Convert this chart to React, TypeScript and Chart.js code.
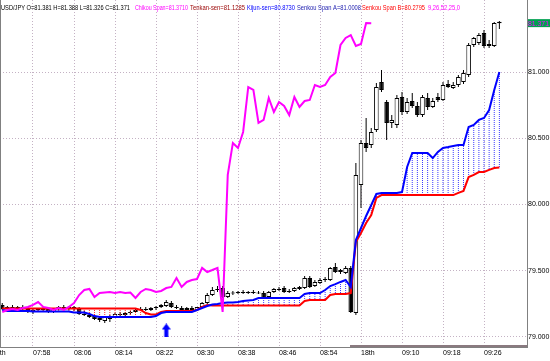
import React, { useEffect, useRef } from "react";
import { Chart, registerables } from "chart.js";

Chart.register(...registerables);

// ---- data ----
const timeTicks = [-2, 6, 14, 22, 30, 38, 46, 54, 62, 70, 78, 86, 94];
const timeLabels = ["18th", "07:58", "08:06", "08:14", "08:22", "08:30", "08:38", "08:46", "08:54", "18th", "09:10", "09:18", "09:26"];
const priceTicks = [79.0, 79.5, 80.0, 80.5, 81.0];

const opens = [
  79.240, 79.209, 79.225, 79.217, 79.225, 79.209, 79.187, 79.202, 79.209, 79.209,
  79.187, 79.209, 79.225, 79.217, 79.225, 79.209, 79.172, 79.164, 79.156, 79.141,
  79.119, 79.134, 79.149, 79.172, 79.164, 79.179, 79.187, 79.202, 79.209, 79.202,
  79.217, 79.225, 79.232, 79.255, 79.225, 79.217, 79.202, 79.217, 79.202, 79.225,
  79.255, 79.315, 79.353, 79.368, 79.300, 79.327, 79.330, 79.338, 79.330, 79.338,
  79.327, 79.330, 79.300, 79.338, 79.361, 79.368, 79.338, 79.346, 79.361, 79.368,
  79.444, 79.383, 79.406, 79.429, 79.429, 79.527, 79.489, 79.482, 79.520, 79.179,
  80.147, 80.465, 80.450, 80.563, 80.926, 80.775, 80.616, 80.601, 80.813, 80.699,
  80.782, 80.745, 80.676, 80.805, 80.737, 80.813, 80.790, 80.911, 80.881, 80.903,
  80.926, 80.979, 81.206, 81.221, 81.296, 81.198, 81.198, 81.381,
];
const highs = [
  79.255, 79.232, 79.240, 79.232, 79.240, 79.225, 79.209, 79.217, 79.225, 79.225,
  79.217, 79.232, 79.240, 79.232, 79.232, 79.225, 79.194, 79.179, 79.172, 79.156,
  79.156, 79.164, 79.179, 79.187, 79.187, 79.194, 79.209, 79.225, 79.225, 79.225,
  79.232, 79.247, 79.278, 79.270, 79.240, 79.232, 79.225, 79.232, 79.225, 79.262,
  79.330, 79.376, 79.383, 79.383, 79.346, 79.346, 79.346, 79.353, 79.346, 79.353,
  79.346, 79.346, 79.346, 79.368, 79.376, 79.383, 79.361, 79.376, 79.383, 79.459,
  79.459, 79.429, 79.444, 79.451, 79.527, 79.557, 79.512, 79.535, 79.535, 80.313,
  80.487, 80.654, 80.578, 80.918, 81.017, 80.790, 80.676, 80.828, 80.850, 80.805,
  80.843, 80.775, 80.828, 80.843, 80.805, 80.843, 80.926, 80.941, 80.926, 80.979,
  81.017, 81.221, 81.266, 81.296, 81.319, 81.244, 81.380, 81.388,
];
const lows = [
  79.202, 79.194, 79.202, 79.194, 79.202, 79.179, 79.172, 79.187, 79.194, 79.179,
  79.179, 79.202, 79.209, 79.202, 79.194, 79.164, 79.156, 79.141, 79.126, 79.111,
  79.104, 79.111, 79.141, 79.156, 79.156, 79.164, 79.179, 79.194, 79.194, 79.194,
  79.202, 79.217, 79.225, 79.217, 79.209, 79.194, 79.194, 79.194, 79.194, 79.217,
  79.247, 79.308, 79.338, 79.293, 79.293, 79.315, 79.323, 79.323, 79.323, 79.323,
  79.323, 79.285, 79.293, 79.330, 79.346, 79.330, 79.330, 79.338, 79.353, 79.361,
  79.368, 79.376, 79.398, 79.414, 79.421, 79.482, 79.474, 79.474, 79.179, 79.164,
  79.973, 80.397, 80.427, 80.548, 80.850, 80.487, 80.578, 80.578, 80.676, 80.684,
  80.729, 80.661, 80.661, 80.714, 80.729, 80.775, 80.782, 80.881, 80.873, 80.888,
  80.911, 80.964, 81.191, 81.206, 81.183, 81.183, 81.191, 81.326,
];
const closes = [
  79.209, 79.225, 79.217, 79.225, 79.209, 79.187, 79.202, 79.209, 79.202, 79.187,
  79.209, 79.225, 79.217, 79.225, 79.209, 79.172, 79.164, 79.149, 79.134, 79.126,
  79.149, 79.156, 79.172, 79.164, 79.179, 79.187, 79.202, 79.209, 79.202, 79.217,
  79.225, 79.240, 79.262, 79.225, 79.217, 79.202, 79.217, 79.202, 79.225, 79.255,
  79.315, 79.353, 79.361, 79.300, 79.330, 79.334, 79.338, 79.330, 79.338, 79.330,
  79.334, 79.293, 79.338, 79.361, 79.353, 79.338, 79.346, 79.368, 79.376, 79.444,
  79.376, 79.414, 79.429, 79.436, 79.520, 79.489, 79.504, 79.520, 79.187, 80.223,
  80.465, 80.427, 80.548, 80.888, 80.866, 80.616, 80.639, 80.805, 80.699, 80.775,
  80.745, 80.676, 80.813, 80.737, 80.782, 80.790, 80.903, 80.888, 80.903, 80.964,
  80.994, 81.206, 81.259, 81.281, 81.198, 81.213, 81.372, 81.371,
];
const senkouA = [
  79.202, 79.194, 79.194, 79.194, 79.194, 79.194, 79.191, 79.191, 79.191, 79.191,
  79.191, 79.191, 79.191, 79.191, 79.183, 79.183, 79.183, 79.172, 79.156, 79.149,
  79.149, 79.149, 79.149, 79.149, 79.149, 79.149, 79.149, 79.149, 79.149, 79.149,
  79.156, 79.179, 79.187, 79.187, 79.187, 79.187, 79.187, 79.187, 79.202, 79.217,
  79.232, 79.243, 79.247, 79.255, 79.259, 79.259, 79.262, 79.270, 79.274, 79.278,
  79.293, 79.293, 79.293, 79.293, 79.293, 79.293, 79.293, 79.293, 79.293, 79.323,
  79.330, 79.330, 79.330, 79.353, 79.383, 79.398, 79.414, 79.429, 79.376, 79.731,
  79.822, 79.913, 79.996, 80.079, 80.087, 80.087, 80.087, 80.087, 80.094, 80.283,
  80.389, 80.389, 80.389, 80.389, 80.351, 80.397, 80.427, 80.434, 80.442, 80.450,
  80.450, 80.586, 80.601, 80.639, 80.654, 80.714, 80.866, 81.0008,
];
const senkouB = [
  79.213, 79.213, 79.213, 79.213, 79.213, 79.213, 79.213, 79.213, 79.213, 79.213,
  79.213, 79.213, 79.213, 79.213, 79.213, 79.213, 79.213, 79.213, 79.213, 79.213,
  79.213, 79.213, 79.213, 79.213, 79.213, 79.213, 79.213, 79.202, 79.179, 79.168,
  79.168, 79.187, 79.194, 79.194, 79.194, 79.194, 79.194, 79.194, 79.202, 79.225,
  79.240, 79.236, 79.236, 79.236, 79.236, 79.236, 79.236, 79.236, 79.236, 79.236,
  79.236, 79.236, 79.236, 79.236, 79.236, 79.236, 79.236, 79.236, 79.236, 79.270,
  79.278, 79.278, 79.278, 79.278, 79.315, 79.323, 79.323, 79.323, 79.330, 79.716,
  79.784, 79.860, 79.920, 80.049, 80.071, 80.071, 80.071, 80.071, 80.071, 80.071,
  80.071, 80.071, 80.071, 80.071, 80.071, 80.071, 80.071, 80.071, 80.071, 80.087,
  80.102, 80.207, 80.223, 80.245, 80.245, 80.261, 80.276, 80.2795,
];
const chikouShift = 25;
const signalBar = 32;
const signalPrice = 79.047;

const legendTexts = [
  "USD/JPY O=81.381 H=81.388 L=81.326 C=81.371",
  "Chikou Span=81.3710",
  "Tenkan-sen=81.1285",
  "Kijun-sen=80.8730",
  "Senkou Span A=81.0008",
  "Senkou Span B=80.2795",
  "9,26,52,25,0",
];
const lastPriceLabel = "81.371";

// ---- layout / style ----
const legendColors = ["#000000", "#FF00FF", "#990000", "#0000FF", "#2020B0", "#FF0000", "#FF00FF"];
const legendX = [1, 135, 190, 247, 297, 362, 428];
const legendW = [129, 53, 55, 48, 64, 63, 32];

const X_MIN = -0.439;
const X_MAX = 102.39;
const Y_MAX = 81.5459;
const Y_MIN = 78.9221;
const GRID = "#c4b2c4";
const FONT = "'Liberation Sans', Arial, sans-serif";

function makePattern(color: string): CanvasPattern | string {
  const c = document.createElement("canvas");
  c.width = 1;
  c.height = 2;
  const g = c.getContext("2d");
  if (!g) return color;
  g.fillStyle = color;
  g.fillRect(0, 0, 1, 1);
  const p = g.createPattern(c, "repeat");
  return p || color;
}

function makeArrow(): HTMLCanvasElement {
  const c = document.createElement("canvas");
  c.width = 9;
  c.height = 14;
  const g = c.getContext("2d")!;
  g.fillStyle = "#0000FF";
  g.beginPath();
  g.moveTo(4.5, 0);
  g.lineTo(9, 6);
  g.lineTo(0, 6);
  g.closePath();
  g.fill();
  g.fillRect(2.5, 6, 4, 8);
  return c;
}

const overlayPlugin = {
  id: "mtOverlay",
  afterDraw(chart: any) {
    const { ctx, chartArea, scales } = chart;
    ctx.save();
    // frame: left edge and the thick bottom segment under the latest session
    ctx.strokeStyle = "#808080";
    ctx.lineWidth = 1;
    ctx.beginPath();
    ctx.moveTo(0.5, chartArea.top);
    ctx.lineTo(0.5, chartArea.bottom);
    ctx.stroke();
    const xs = scales.x.getPixelForValue(timeTicks[9]) - 11;
    ctx.fillStyle = "#8a7a80";
    ctx.fillRect(xs, chartArea.bottom - 2, chartArea.right - xs, 2);
    // last price label on the price axis
    const py = scales.y.getPixelForValue(closes[closes.length - 1]);
    ctx.fillStyle = "#00A050";
    ctx.fillRect(chartArea.right + 1, py - 4, 22, 8);
    ctx.fillStyle = "#FF00FF";
    ctx.font = `7px ${FONT}`;
    ctx.textBaseline = "middle";
    ctx.textAlign = "left";
    ctx.fillText(lastPriceLabel, chartArea.right + 1, py + 0.5, 21);
    // legend text
    ctx.font = `8px ${FONT}`;
    for (let i = 0; i < legendTexts.length; i++) {
      ctx.fillStyle = legendColors[i];
      ctx.fillText(legendTexts[i], legendX[i], 7.5, legendW[i]);
    }
    ctx.restore();
  },
};

export default function App() {
  const ref = useRef<HTMLCanvasElement | null>(null);

  useEffect(() => {
    document.body.style.margin = "0";
    const canvas = ref.current;
    if (!canvas) return;
    const patBlue = makePattern("#3a3aff");
    const patRed = makePattern("#ff3030");
    const arrow = makeArrow();
    const idx = closes.map((_, i) => i);

    const chart = new Chart(canvas, {
      type: "bar",
      data: {
        datasets: [
          {
            type: "bar",
            label: "wick",
            data: idx.map((i) => ({ x: i, y: [lows[i], highs[i]] })) as any,
            backgroundColor: "#000000",
            barThickness: 1,
            grouped: false,
            inflateAmount: 0,
            order: 10,
          } as any,
          {
            type: "bar",
            label: "body",
            data: idx.map((i) => ({ x: i, y: [opens[i], closes[i]] })) as any,
            backgroundColor: (c: any) => (closes[c.dataIndex] >= opens[c.dataIndex] ? "#ffffff" : "#000000"),
            borderColor: "#000000",
            borderWidth: 1,
            borderSkipped: false,
            barThickness: 4.6,
            grouped: false,
            inflateAmount: 0,
            order: 9,
          } as any,
          {
            type: "bar",
            label: "cloud",
            data: idx.map((i) => ({ x: i, y: [senkouA[i], senkouB[i]] })) as any,
            backgroundColor: (c: any) => (senkouA[c.dataIndex] >= senkouB[c.dataIndex] ? patBlue : patRed),
            barThickness: 1,
            grouped: false,
            inflateAmount: 0,
            order: 6,
          } as any,
          {
            type: "line",
            label: "Senkou Span B",
            data: idx.map((i) => ({ x: i, y: senkouB[i] })),
            borderColor: "#FF0000",
            borderWidth: 2,
            pointRadius: 0,
            tension: 0,
            order: 4,
          } as any,
          {
            type: "line",
            label: "Senkou Span A",
            data: idx.map((i) => ({ x: i, y: senkouA[i] })),
            borderColor: "#0000FF",
            borderWidth: 2,
            pointRadius: 0,
            tension: 0,
            order: 3,
          } as any,
          {
            type: "line",
            label: "Chikou Span",
            data: closes.slice(chikouShift).map((c, k) => ({ x: k, y: c })),
            borderColor: "#FF00FF",
            borderWidth: 2,
            pointRadius: 0,
            tension: 0,
            order: 2,
          } as any,
          {
            type: "scatter",
            label: "signal",
            data: [{ x: signalBar, y: signalPrice }],
            pointStyle: arrow,
            pointRadius: 5,
            order: 1,
          } as any,
        ],
      },
      options: {
        animation: false,
        responsive: false,
        maintainAspectRatio: false,
        devicePixelRatio: 1,
        events: [],
        layout: { padding: 0, autoPadding: false },
        plugins: {
          legend: { display: false },
          tooltip: { enabled: false },
          title: { display: false },
        },
        scales: {
          x: {
            type: "linear",
            position: "bottom",
            min: X_MIN,
            max: X_MAX,
            offset: false,
            grid: { offset: false, color: GRID, lineWidth: 1, drawTicks: false },
            border: { display: true, color: "#808080", width: 1, dash: [1, 2] },
            ticks: {
              autoSkip: false,
              maxRotation: 0,
              minRotation: 0,
              align: "start",
              padding: 2,
              color: "#000000",
              font: { family: FONT, size: 7 },
              callback: (_v: any, i: number) => timeLabels[i] ?? "",
            },
            afterBuildTicks: (s: any) => {
              s.ticks = timeTicks.map((v) => ({ value: v }));
            },
            afterFit: (s: any) => {
              s.height = 14;
              s.paddingLeft = 0;
              s.paddingRight = 0;
            },
          } as any,
          y: {
            type: "linear",
            position: "right",
            min: Y_MIN,
            max: Y_MAX,
            grid: { color: GRID, lineWidth: 1, drawTicks: false },
            border: { display: true, color: "#808080", width: 1, dash: [1, 2] },
            ticks: {
              padding: 1,
              color: "#000000",
              font: { family: FONT, size: 7 },
              callback: (v: any) => Number(v).toFixed(3),
            },
            afterBuildTicks: (s: any) => {
              s.ticks = priceTicks.map((v) => ({ value: v }));
            },
            afterFit: (s: any) => {
              s.width = 23;
              s.paddingTop = 0;
              s.paddingBottom = 0;
            },
          } as any,
        },
      },
      plugins: [overlayPlugin],
    } as any);

    return () => chart.destroy();
  }, []);

  return (
    <div style={{ width: 550, height: 361 }}>
      <canvas ref={ref} width={550} height={361} style={{ display: "block", width: 550, height: 361 }} />
    </div>
  );
}
